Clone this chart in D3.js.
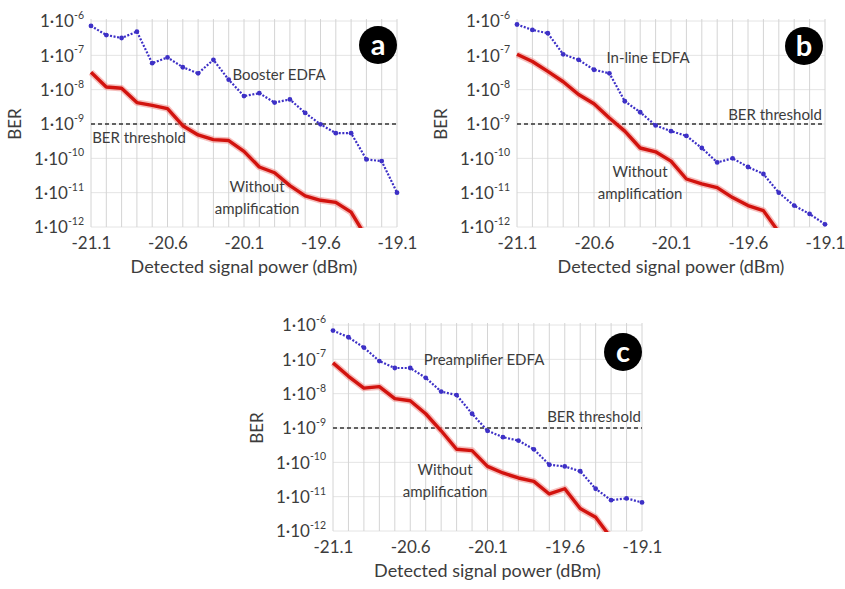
<!DOCTYPE html>
<html><head><meta charset="utf-8">
<script src="https://cdn.jsdelivr.net/npm/d3@7"></script>
<style>
body{margin:0;background:#fff;}
svg{display:block;font-family:Lato,"Open Sans",sans-serif;}
</style></head>
<body><svg id="chart" width="845" height="589"></svg>
<script>
// ---- data ----
const power = [-21.1,-21.0,-20.9,-20.8,-20.7,-20.6,-20.5,-20.4,-20.3,-20.2,-20.1,-20.0,-19.9,-19.8,-19.7,-19.6,-19.5,-19.4,-19.3,-19.2,-19.1];
const xTicks = [-21.1,-20.6,-20.1,-19.6,-19.1];
const xTickLabels = ["-21.1","-20.6","-20.1","-19.6","-19.1"];
const yTicks = [1e-6,1e-7,1e-8,1e-9,1e-10,1e-11,1e-12];
const yTickExps = ["-6","-7","-8","-9","-10","-11","-12"];
const berThreshold = 1e-9;

const boosterEDFA = [7.2e-7,3.9e-7,3.2e-7,4.9e-7,5.9e-8,8.7e-8,4.5e-8,3.0e-8,7.4e-8,1.95e-8,6.5e-9,7.9e-9,4.2e-9,5.2e-9,2.1e-9,9.8e-10,5.4e-10,5.4e-10,9.3e-11,8.3e-11,1.0e-11];
const noAmpA = [3.2e-8,1.2e-8,1.1e-8,4.2e-9,3.5e-9,2.8e-9,8.9e-10,4.8e-10,3.5e-10,3.3e-10,1.6e-10,5.6e-11,3.8e-11,1.6e-11,8.1e-12,6.0e-12,5.2e-12,2.7e-12,5.0e-13];

const inlineEDFA = [7.9e-7,5.5e-7,4.4e-7,1.07e-7,7.4e-8,3.8e-8,3.0e-8,4.6e-9,2.2e-9,9.1e-10,6.2e-10,4.5e-10,2.0e-10,7.6e-11,1.0e-10,5.6e-11,3.5e-11,1.0e-11,4.2e-12,2.4e-12,1.2e-12];
const noAmpB = [1.07e-7,6.6e-8,3.4e-8,1.7e-8,7.2e-9,3.9e-9,1.5e-9,6.2e-10,2.0e-10,1.55e-10,8.3e-11,2.5e-11,1.8e-11,1.4e-11,7.2e-12,4.2e-12,3.0e-12,7.1e-13];

const preampEDFA = [6.9e-7,4.4e-7,2.2e-7,8.9e-8,5.6e-8,5.6e-8,2.9e-8,1.15e-8,9.1e-9,2.6e-9,8.3e-10,5.4e-10,4.3e-10,2.4e-10,8.5e-11,7.6e-11,5.5e-11,1.7e-11,7.9e-12,8.9e-12,6.8e-12];
const noAmpC = [7.9e-8,3.2e-8,1.45e-8,1.6e-8,7.2e-9,6.2e-9,2.6e-9,8.3e-10,2.4e-10,2.2e-10,7.6e-11,4.9e-11,3.5e-11,2.8e-11,1.2e-11,1.7e-11,4.5e-12,2.5e-12,6.3e-13];

const panelLetters = ["a","b","c"];
const ampNames = ["Booster EDFA","In-line EDFA","Preamplifier EDFA"];
const axisTitleX = "Detected signal power (dBm)";
const axisTitleY = "BER";
const thresholdLabel = "BER threshold";
const noAmpLabel = ["Without","amplification"];

// ---- layout ----
const panels = [
  {left:91, right:397, top:21, bottom:227, amp:boosterEDFA, base:noAmpA, letter:panelLetters[0], name:ampNames[0],
   circle:[378,45], nameAt:[279,80], thrAt:[139,143], woAt:[257,192]},
  {left:517, right:825, top:21, bottom:227, amp:inlineEDFA, base:noAmpB, letter:panelLetters[1], name:ampNames[1],
   circle:[804,46], nameAt:[648,63], thrAt:[775,120], woAt:[640,177]},
  {left:333, right:642, top:325, bottom:531, amp:preampEDFA, base:noAmpC, letter:panelLetters[2], name:ampNames[2],
   circle:[623,352], nameAt:[484,365], thrAt:[594,422], woAt:[445,475]}
];

const svg = d3.select("#chart");
const textCol = "#3c3c3c";
const blue = "#3d30c6";
const red = "#d2130e";

panels.forEach((p,pi)=>{
  const x = d3.scaleLinear().domain([power[0], power[power.length-1]]).range([p.left,p.right]);
  const y = d3.scaleLog().domain([1e-6,1e-12]).range([p.top,p.bottom]);
  const g = svg.append("g");
  const clipId = "clip"+pi;
  svg.append("clipPath").attr("id",clipId).append("rect")
    .attr("x",p.left-4).attr("y",p.top-6).attr("width",p.right-p.left+8).attr("height",p.bottom-p.top+7);

  // horizontal grid
  g.append("g").selectAll("line").data(yTicks).join("line")
    .attr("x1",p.left).attr("x2",p.right).attr("y1",d=>y(d)).attr("y2",d=>y(d))
    .attr("stroke","#e4e4e4").attr("stroke-width",1);
  // vertical grid
  g.append("g").selectAll("line").data(power).join("line")
    .attr("x1",d=>x(d)).attr("x2",d=>x(d)).attr("y1",p.top-2).attr("y2",p.bottom)
    .attr("stroke","#d4d4d4").attr("stroke-width",1);

  // x axis
  const xAxis = d3.axisBottom(x).tickValues(xTicks).tickFormat((d,i)=>xTickLabels[i]).tickSize(0).tickPadding(10);
  const xa = g.append("g").attr("transform",`translate(0,${p.bottom})`).call(xAxis);
  xa.select(".domain").remove();
  xa.selectAll("text").attr("font-size",17).attr("fill",textCol).attr("font-family","Lato,sans-serif");

  // y axis
  const yAxis = d3.axisLeft(y).tickValues(yTicks).tickFormat("").tickSize(0).tickPadding(7);
  const ya = g.append("g").attr("transform",`translate(${p.left},0)`).call(yAxis);
  ya.select(".domain").remove();
  ya.selectAll(".tick text").each(function(d){
    const t = d3.select(this).attr("font-size",17).attr("fill",textCol).attr("font-family","Lato,sans-serif").attr("dy","0.35em");
    t.text(null);
    t.append("tspan").text("1·10");
    t.append("tspan").attr("font-size",10.5).attr("dy","-0.8em").text(yTickExps[yTicks.indexOf(d)]);
  });

  // axis titles
  g.append("text").attr("x",(p.left+p.right)/2).attr("y",p.bottom+46)
    .attr("text-anchor","middle").attr("font-size",18).attr("fill",textCol).text(axisTitleX);
  g.append("text").attr("transform",`translate(${p.left-76},${(p.top+p.bottom)/2}) rotate(-90)`)
    .attr("dy","0.35em").attr("text-anchor","middle").attr("font-size",17).attr("fill",textCol).text(axisTitleY);

  // threshold
  g.append("line").attr("x1",p.left).attr("x2",p.right).attr("y1",y(berThreshold)).attr("y2",y(berThreshold))
    .attr("stroke","#333").attr("stroke-width",1.5).attr("stroke-dasharray","4,3");

  const line = d3.line().x((d,i)=>x(power[i])).y(d=>y(d));
  const lg = g.append("g").attr("clip-path",`url(#${clipId})`);
  // red baseline with glow
  lg.append("path").datum(p.base).attr("d",line).attr("fill","none")
    .attr("stroke","#ee8a86").attr("stroke-width",6.5).attr("stroke-linejoin","round").attr("opacity",0.55);
  lg.append("path").datum(p.base).attr("d",line).attr("fill","none")
    .attr("stroke",red).attr("stroke-width",3.4).attr("stroke-linejoin","round");
  // blue dotted with markers
  lg.append("path").datum(p.amp).attr("d",line).attr("fill","none")
    .attr("stroke",blue).attr("stroke-width",2.2).attr("stroke-dasharray","2,1.6");
  lg.append("g").selectAll("circle").data(p.amp).join("circle")
    .attr("cx",(d,i)=>x(power[i])).attr("cy",d=>y(d)).attr("r",2.4).attr("fill",blue);

  // annotations
  const ann = (pos,txt)=>g.append("text").attr("x",pos[0]).attr("y",pos[1]).attr("text-anchor","middle")
    .attr("font-size",15).attr("fill",textCol).text(txt);
  ann(p.nameAt,p.name);
  ann(p.thrAt,thresholdLabel);
  ann(p.woAt,noAmpLabel[0]);
  ann([p.woAt[0],p.woAt[1]+22],noAmpLabel[1]);

  // letter circle
  g.append("circle").attr("cx",p.circle[0]).attr("cy",p.circle[1]).attr("r",19).attr("fill","#000");
  g.append("text").attr("x",p.circle[0]).attr("y",p.circle[1]).attr("dy","0.34em").attr("text-anchor","middle")
    .attr("font-size",29).attr("font-weight","bold").attr("fill","#fff").text(p.letter);
});
</script></body></html>
